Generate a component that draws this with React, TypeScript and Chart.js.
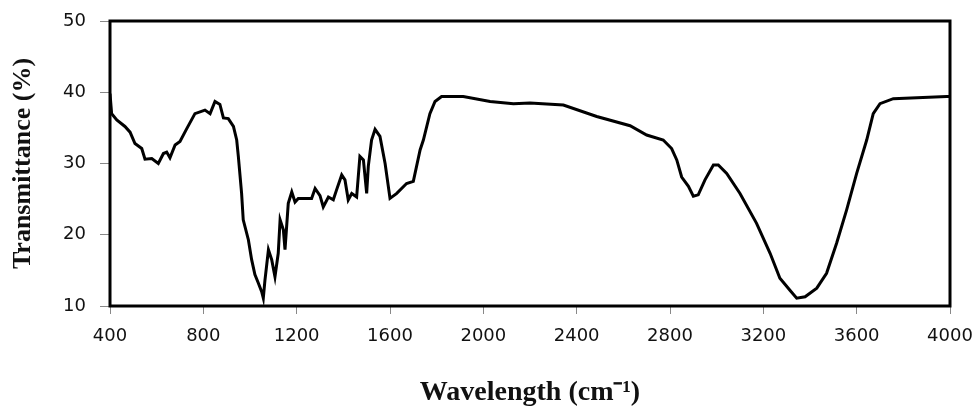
import React, { useEffect, useRef } from "react";
import { Chart, registerables } from "chart.js";

Chart.register(...registerables);

const wavenumbers = [
  400, 407, 429, 464, 486, 507, 536, 550, 579, 607, 629, 643, 657, 679, 700, 729, 764, 807, 829, 850,
  871, 886, 907, 929, 943, 950, 964, 971, 993, 1007, 1021, 1036, 1050, 1057, 1064, 1079, 1093, 1107,
  1121, 1129, 1143, 1150, 1164, 1179, 1193, 1207, 1264, 1279, 1300, 1314, 1336, 1357, 1371, 1393,
  1407, 1421, 1436, 1457, 1471, 1486, 1500, 1507, 1521, 1536, 1557, 1579, 1600, 1629, 1671, 1700,
  1729, 1743, 1771, 1793, 1821, 1914, 2029, 2129, 2200, 2343, 2486, 2629, 2700, 2771, 2807, 2829,
  2850, 2879, 2900, 2921, 2950, 2986, 3007, 3043, 3100, 3171, 3229, 3271, 3314, 3343, 3379, 3429,
  3471, 3514, 3557, 3600, 3643, 3671, 3700, 3757, 3986, 4000,
];

const transmittance = [
  39.8, 37.0, 36.1, 35.2, 34.4, 32.8, 32.1, 30.6, 30.7, 30.0, 31.4, 31.6, 30.8, 32.6, 33.1, 34.9, 37.0,
  37.5, 37.0, 38.7, 38.3, 36.4, 36.3, 35.2, 33.3, 31.0, 25.8, 22.1, 19.3, 16.5, 14.4, 13.2, 12.0, 11.1,
  13.6, 17.9, 16.5, 14.1, 17.4, 22.1, 20.7, 17.9, 24.4, 26.0, 24.6, 25.1, 25.1, 26.5, 25.5, 23.9, 25.3,
  24.9, 26.3, 28.4, 27.7, 24.9, 25.8, 25.3, 31.0, 30.5, 25.8, 29.6, 33.3, 34.8, 33.8, 30.0, 25.1, 25.8,
  27.2, 27.5, 31.9, 33.3, 37.0, 38.7, 39.4, 39.4, 38.7, 38.4, 38.5, 38.2, 36.6, 35.3, 34.0, 33.3, 32.1,
  30.5, 28.1, 26.8, 25.4, 25.6, 27.7, 29.8, 29.8, 28.6, 25.8, 21.6, 17.4, 13.9, 12.2, 11.1, 11.3, 12.5,
  14.6, 18.8, 23.5, 28.6, 33.3, 37.0, 38.4, 39.1, 39.4, 39.4,
];

const xTitle = "Wavelength (cm\u207B\u00B9)";
const yTitle = "Transmittance (%)";

const framePlugin = {
  id: "frame",
  afterDatasetsDraw(chart: any) {
    const { ctx, chartArea } = chart;
    ctx.save();
    ctx.strokeStyle = "#000";
    ctx.lineWidth = 3;
    ctx.strokeRect(chartArea.left, chartArea.top, chartArea.right - chartArea.left, chartArea.bottom - chartArea.top);
    ctx.restore();
  },
};

export default function App() {
  const ref = useRef<HTMLCanvasElement | null>(null);

  useEffect(() => {
    if (!ref.current) return;
    const data = wavenumbers.map((w, i) => ({ x: w, y: transmittance[i] }));
    const chart = new Chart(ref.current, {
      type: "line",
      data: {
        datasets: [
          {
            data,
            borderColor: "#000",
            borderWidth: 3,
            pointRadius: 0,
            tension: 0,
            fill: false,
          },
        ],
      },
      options: {
        animation: false,
        responsive: false,
        devicePixelRatio: 1,
        layout: { padding: { top: 21, right: 29, left: 0, bottom: 0 } },
        plugins: { legend: { display: false }, tooltip: { enabled: false } },
        scales: {
          x: {
            type: "linear",
            min: 400,
            max: 4000,
            afterFit: (s: any) => {
              s.height = 102;
              s.paddingLeft = 0;
              s.paddingRight = 0;
            },
            ticks: {
              stepSize: 400,
              color: "#111",
              padding: 12,
              maxRotation: 0,
              callback: (v: any) => String(v),
              font: { family: "'DejaVu Sans', sans-serif", size: 18 },
            },
            grid: { drawOnChartArea: false, drawTicks: true, tickLength: 8, color: "#888" },
            border: { display: false },
            title: {
              display: true,
              text: xTitle,
              color: "#111",
              padding: { top: 0, bottom: -2 },
              font: { family: "'Liberation Serif', 'Times New Roman', serif", size: 28, weight: "bold" },
            },
          },
          y: {
            min: 10,
            max: 50,
            afterFit: (s: any) => {
              s.width = 110;
              s.paddingTop = 0;
              s.paddingBottom = 0;
            },
            ticks: {
              stepSize: 10,
              color: "#111",
              padding: 14,
              callback: (v: any) => String(v),
              font: { family: "'DejaVu Sans', sans-serif", size: 18 },
            },
            grid: { drawOnChartArea: false, drawTicks: true, tickLength: 10, color: "#888" },
            border: { display: false },
            title: {
              display: true,
              text: yTitle,
              color: "#111",
              padding: { top: 8, bottom: 0 },
              font: { family: "'Liberation Serif', 'Times New Roman', serif", size: 26, weight: "bold" },
            },
          },
        },
      },
      plugins: [framePlugin],
    });
    return () => chart.destroy();
  }, []);

  return (
    <div style={{ position: "fixed", left: 0, top: 0, width: 979, height: 408, background: "#fff" }}>
      <canvas ref={ref} width={979} height={408} style={{ width: 979, height: 408, display: "block" }} />
    </div>
  );
}
